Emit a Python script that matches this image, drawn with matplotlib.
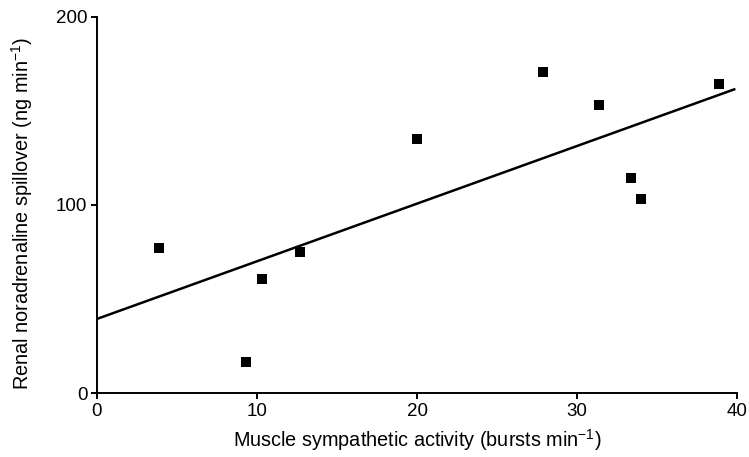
import matplotlib
matplotlib.use("Agg")
import matplotlib.pyplot as plt

# Datos
actividad = [3.9, 9.3, 10.3, 12.7, 20.0, 27.9, 31.4, 33.4, 34.0, 38.9]
spillover = [77.3, 16.3, 60.5, 75.2, 134.9, 170.7, 153.0, 114.4, 103.2, 164.4]

# Recta de regresion (extremos)
recta_x = [0, 39.9]
recta_y = [39.4, 161.7]

xticks = [0, 10, 20, 30, 40]
yticks = [0, 100, 200]

plt.rcParams['font.family'] = ['Liberation Sans', 'DejaVu Sans']
plt.rcParams['mathtext.fontset'] = 'custom'
plt.rcParams['mathtext.rm'] = 'Liberation Sans'
plt.rcParams['mathtext.it'] = 'Liberation Sans'
plt.rcParams['mathtext.default'] = 'regular'

fig = plt.figure(figsize=(7.49, 4.57), dpi=100)
ax = fig.add_axes([0.1295, 0.140, 0.8545, 0.823])

ax.plot(recta_x, recta_y, color='black', linewidth=1.8, solid_capstyle='butt')
ax.plot(actividad, spillover, linestyle='none', marker='s', markersize=7.8,
        color='black', markeredgewidth=0)

ax.set_xlim(0, 40)
ax.set_ylim(0, 200)
ax.set_xticks(xticks)
ax.set_yticks(yticks)
ax.spines['top'].set_visible(False)
ax.spines['right'].set_visible(False)
ax.spines['left'].set_linewidth(1.4)
ax.spines['bottom'].set_linewidth(1.4)
ax.tick_params(direction='out', length=4, width=1.4, labelsize=13.5, pad=3)

ax.set_xlabel('Muscle sympathetic activity (bursts min$^{-1}$)', fontsize=14.3, va='center')
ax.set_ylabel('Renal noradrenaline spillover (ng min$^{-1}$)', fontsize=14.3, va='center')
ax.xaxis.set_label_coords(0.5, -0.125)
ax.yaxis.set_label_coords(-0.117, 0.479)

fig.savefig('out.png', dpi=100)
